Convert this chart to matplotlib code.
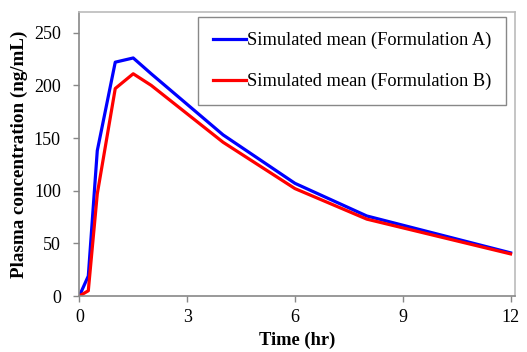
import matplotlib
matplotlib.use("Agg")
import matplotlib.pyplot as plt

# sampling times (hr) and mean concentrations (ng/mL)
time_hr = [0, 0.25, 0.5, 1, 1.5, 2, 4, 6, 8, 12]
conc_a = [0, 19, 138, 222, 226, 211, 153, 107, 76, 41]
conc_b = [0, 5, 97, 197, 211, 200, 146, 102, 73, 40]
label_a = "Simulated mean (Formulation A)"
label_b = "Simulated mean (Formulation B)"
xticks = [0, 3, 6, 9, 12]
yticks = [0, 50, 100, 150, 200, 250]

plt.rcParams['font.family'] = ['Liberation Serif', 'DejaVu Serif']

fig = plt.figure(figsize=(5.27, 3.52), dpi=100)
ax = fig.add_axes([0.1505, 0.159, 0.8265, 0.808])

ax.plot(time_hr, conc_a, color='#0000FF', lw=2.3, label=label_a)
ax.plot(time_hr, conc_b, color='#FF0000', lw=2.3, label=label_b)

ax.set_xlim(0, 12.12)
ax.set_ylim(0, 270)
ax.set_xticks(xticks)
ax.set_yticks(yticks)
ax.tick_params(direction='out', length=4.3, width=1, color='#888888',
               labelsize=13)
ax.tick_params(axis='y', pad=9)
ax.tick_params(axis='x', pad=5)

for side in ['left', 'bottom']:
    ax.spines[side].set_color('#888888')
    ax.spines[side].set_linewidth(1.2)
for side in ['right', 'top']:
    ax.spines[side].set_color('#BBBBBB')
    ax.spines[side].set_linewidth(1.2)

ax.set_xlabel("Time (hr)", fontsize=13.3, fontweight='bold', labelpad=4)
ax.set_ylabel("Plasma concentration (ng/mL)", fontsize=13.7, fontweight='bold', labelpad=4)

leg = ax.legend(loc='upper right', bbox_to_anchor=(0.979, 0.981), fontsize=13.2,
                fancybox=False, edgecolor='#888888', framealpha=1,
                handlelength=1.8, handletextpad=0.05, labelspacing=1.3,
                borderpad=0.8, borderaxespad=0)
leg.get_frame().set_linewidth(1.0)

fig.savefig("out.png", dpi=100)
